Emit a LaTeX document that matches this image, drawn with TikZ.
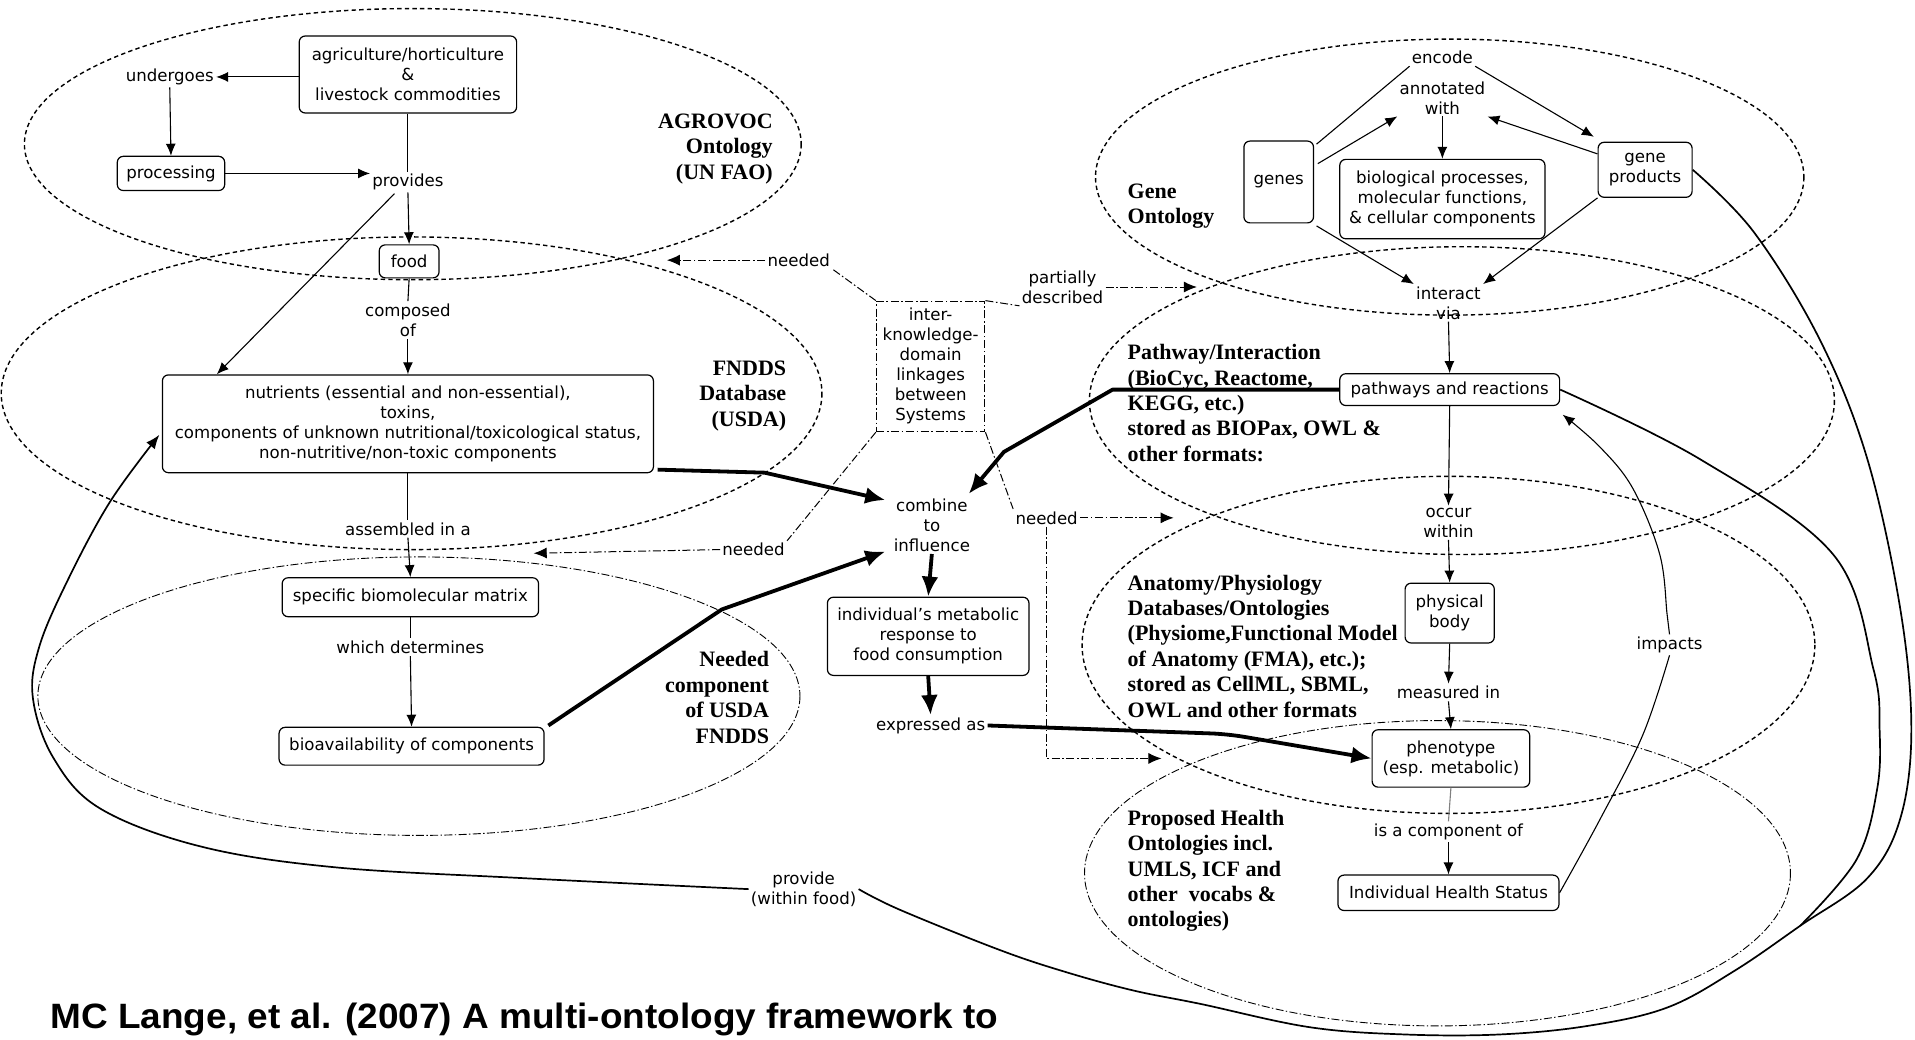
\documentclass[tikz,border=0pt]{standalone}
\usepackage{fontspec}
\setmainfont{DejaVu Sans}
\newfontfamily\serifb{Liberation Serif}
\newfontfamily\capfont{Liberation Sans}[FakeStretch=1.05]
\usetikzlibrary{arrows.meta,calc}
\tikzset{
  box/.style={draw, line width=0.6pt, rounded corners=3pt, align=center, inner sep=2pt},
  lbl/.style={align=center, inner sep=1pt},
  olbl/.style={font=\serifb\bfseries\fontsize{11}{12.7}\selectfont, inner sep=0pt},
  ell/.style={line width=0.7pt, dash pattern=on 2.2pt off 1.6pt},
  ell2/.style={line width=0.45pt, dash pattern=on 4pt off 1.2pt on 0.7pt off 1.2pt},
  ln/.style={line width=0.55pt},
  arr/.style={line width=0.55pt, -{Latex[length=6pt,width=5pt]}},
  bigarr/.style={line width=1.9pt, line join=round, -{Latex[length=10pt,width=8.5pt]}},
  need/.style={line width=0.5pt, dash pattern=on 4pt off 1.3pt on 0.8pt off 1.3pt},
  needarr/.style={need, -{Latex[length=6.5pt,width=5.5pt]}},
  bigcurve/.style={line width=0.85pt}
}
\begin{document}
\begin{tikzpicture}[x=0.61065pt,y=-0.61065pt,
  every node/.style={font=\fontsize{8.3}{10}\selectfont, inner sep=1pt}]
\useasboundingbox (0,0) rectangle (1568,851);

% ---------- ellipses ----------
\draw[ell] (338,118) ellipse [x radius=318, y radius=111];
\draw[ell] (337,322) ellipse [x radius=336, y radius=128];
\draw[ell2] (343,570) ellipse [x radius=312, y radius=114];
\draw[ell] (1187,145) ellipse [x radius=290, y radius=113];
\draw[ell] (1197,328) ellipse [x radius=305, y radius=126];
\draw[ell] (1186,528) ellipse [x radius=300, y radius=138];
\draw[ell2] (1177,715) ellipse [x radius=289, y radius=125];

% ---------- left nodes ----------
\node[box, minimum width=108.7pt, minimum height=38.5pt] (agri) at (334,61) {agriculture/horticulture\\\&\\livestock commodities};
\node[lbl] (und) at (139,63) {undergoes};
\node[box, minimum width=53.7pt, minimum height=17.1pt] (proc) at (140,142) {processing};
\node[lbl] (prv) at (334,149) {provides};
\node[box, minimum width=29.9pt, minimum height=16.5pt] (food) at (335,214) {food};
\node[lbl] (comp) at (334,262) {composed\\of};
\node[box, minimum width=245.5pt, minimum height=48.9pt] (nutr) at (334,347) {nutrients (essential and non-essential),\\toxins,\\components of unknown nutritional/toxicological status,\\non-nutritive/non-toxic components};
\node[lbl] (asm) at (334,433) {assembled in a};
\node[box, minimum width=128.2pt, minimum height=19.5pt] (mat) at (336,489) {specific biomolecular matrix};
\node[lbl] (wd) at (336,530) {which determines};
\node[box, minimum width=132.5pt, minimum height=18.9pt] (bioav) at (337,611) {bioavailability of components};

% ---------- ontology labels ----------
\node[olbl, align=right, anchor=east] (agl) at (633,122) {AGROVOC\\Ontology\\(UN FAO)};
\node[olbl, align=right, anchor=east] (fnl) at (644,324) {FNDDS\\Database\\(USDA)};
\node[olbl, align=right, anchor=east] (ncl) at (630,571) {Needed\\component\\of USDA\\FNDDS};
\node[olbl, align=left, anchor=west] (gol) at (923,169) {Gene\\Ontology};
\node[olbl, align=left, anchor=west] (pwl) at (923,330) {Pathway/Interaction\\(BioCyc, Reactome,\\KEGG, etc.)\\stored as BIOPax, OWL \&\\other formats:};
\node[olbl, align=left, anchor=west] (anl) at (923,529) {Anatomy/Physiology\\Databases/Ontologies\\(Physiome,Functional Model\\of Anatomy (FMA), etc.);\\stored as CellML, SBML,\\OWL and other formats};
\node[olbl, align=left, anchor=west] (phl) at (923,713) {Proposed Health\\Ontologies incl.\\UMLS, ICF and\\other\ \ vocabs \&\\ontologies)};

% ---------- middle nodes ----------
\node[draw, need, align=center, minimum width=54.3pt, minimum height=65.3pt, inner sep=1pt] (ikl) at (762,300) {inter-\\knowledge-\\domain\\linkages\\between\\Systems};
\node[lbl] (n1) at (654,213) {needed};
\node[lbl] (pd) at (870,235) {partially\\described};
\node[lbl] (n2) at (617,450) {needed};
\node[lbl] (n3) at (857,424) {needed};
\node[lbl] (cti) at (763,430) {combine\\to\\influence};
\node[box, minimum width=100.8pt, minimum height=39.1pt] (ind) at (760,521) {individual's metabolic\\response to\\food consumption};
\node[lbl] (exa) at (762,594) {expressed as};
\node[lbl] (pwf) at (658,728) {provide\\(within food)};

% ---------- right nodes ----------
\node[lbl] (enc) at (1181,47) {encode};
\node[lbl] (anw) at (1181,80) {annotated\\with};
\node[box, minimum width=34.8pt, minimum height=40.9pt] (gen) at (1047,149) {genes};
\node[box, minimum width=102.6pt, minimum height=39.7pt] (bpm) at (1181,163) {biological processes,\\molecular functions,\\\& cellular components};
\node[box, minimum width=47pt, minimum height=27.5pt] (gpr) at (1347,139) {gene\\products};
\node[lbl] (itv) at (1186,248) {interact\\via};
\node[box, minimum width=109.9pt, minimum height=15.9pt] (pwr) at (1187,319) {pathways and reactions};
\node[lbl] (ocw) at (1186,428) {occur\\within};
\node[box, minimum width=44.6pt, minimum height=29.9pt] (phb) at (1187,502) {physical\\body};
\node[lbl] (msi) at (1186,567) {measured in};
\node[box, minimum width=78.8pt, minimum height=28.7pt] (phe) at (1188,621) {phenotype\\(esp. metabolic)};
\node[lbl] (iac) at (1186,681) {is a component of};
\node[box, minimum width=110.5pt, minimum height=17.7pt] (ihs) at (1186,731) {Individual Health Status};
\node[lbl] (imp) at (1367,528) {impacts};

% ---------- caption ----------
\node[anchor=base west, inner sep=0pt, font=\capfont\bfseries\fontsize{17.6}{20}\selectfont] (cap) at (41,842) {MC Lange, et al. (2007) A multi-ontology framework to};

% ---------- free-end coordinates ----------
\coordinate (t1) at (546,213);
\coordinate (t2) at (980,235);
\coordinate (t3) at (437,453);
\coordinate (t4) at (961,424);
\coordinate (t5) at (951,621);
\coordinate (k1) at (626,387);
\coordinate (k2) at (591,499);
\coordinate (k3) at (911,319);
\coordinate (k4) at (822,370);
\coordinate (k5) at (1005,601);
\coordinate (nutTip) at ($(nutr.west)+(-2,9)$);
\coordinate (impTip) at ($(pwr.south east)+(2,7)$);

% ---------- left connectors ----------
\draw[arr] (agri.west |- und.east) -- (und.east);
\draw[arr] (und.south) -- (proc.north);
\draw[arr] (proc.east) -- (proc.east -| prv.west);
\draw[ln] (agri.south) -- (prv.north);
\draw[arr] (prv.south) -- (food.north);
\draw[arr] ($(prv.south)+(-11,1)$) -- ($(nutr.north west)+(45,0)$);
\draw[ln] (food.south) -- (comp.north);
\draw[arr] (comp.south) -- (nutr.north);
\draw[ln] (nutr.south) -- (asm.north);
\draw[arr] (asm.south) -- (mat.north);
\draw[ln] (mat.south) -- (wd.north);
\draw[arr] (wd.south) -- (bioav.north);

% ---------- thick connectors ----------
\draw[bigarr] ($(nutr.south east)+(3,-3)$) -- (k1) -- ($(cti.north west)+(-5,3)$);
\draw[bigarr] ($(bioav.north east)+(3,-1)$) -- (k2) -- ($(cti.south west)+(-5,-2)$);
\draw[bigarr] (pwr.west) -- (k3) -- (k4) -- ($(cti.north east)+(-3,-2)$);
\draw[bigarr] (cti.south) -- (ind.north);
\draw[bigarr] (ind.south) -- (exa.north);
\draw[bigarr, rounded corners=8pt] (exa.east) -- (k5) -- (phe.west);

% ---------- needed connectors ----------
\draw[need] (ikl.north west) -- (n1.south east);
\draw[needarr] (n1.west) -- (t1);
\draw[need] (ikl.north east) -- (pd.south west);
\draw[needarr] (pd.east) -- (t2);
\draw[need] (ikl.south west) -- (n2.north east);
\draw[needarr] (n2.west) -- (t3);
\draw[need] (ikl.south east) -- (n3.north west);
\draw[needarr] (n3.east) -- (t4);
\draw[needarr] (n3.south) |- (t5);

% ---------- right connectors ----------
\draw[ln] ($(gen.north east)+(2,3)$) -- (enc.south west);
\draw[arr] (enc.south east) -- ($(gpr.north west)+(-3,-4)$);
\draw[arr] ($(gen.east)+(3,-15)$) -- (anw.south west);
\draw[arr] ($(gpr.west)+(0,-13)$) -- (anw.south east);
\draw[arr] (anw.south) -- (bpm.north);
\draw[arr] ($(gen.south east)+(2,2)$) -- (itv.north west);
\draw[arr] (gpr.south west) -- (itv.north east);
\draw[arr] (itv.south) -- (pwr.north);
\draw[arr] (pwr.south) -- (ocw.north);
\draw[arr] (ocw.south) -- (phb.north);
\draw[arr] (phb.south) -- (msi.north);
\draw[arr] (msi.south) -- (phe.north);
\draw[ln, gray] (phe.south) -- (iac.north);
\draw[arr] (iac.south) -- (ihs.north);

% impacts
\draw[ln] plot[smooth, tension=0.6] coordinates {(ihs.east) (1310,671) (1345,602) (imp.south)};
\draw[arr] plot[smooth, tension=0.6] coordinates {(imp.north) (1365,503) (1359,454) (1337,400) (1310,366) (impTip)};

% big sweeping curves
\draw[bigcurve, -{Latex[length=7pt,width=5.5pt]}] plot[smooth, tension=0.6] coordinates {(pwf.west) (428,719) (273,710) (164,693) (82,662) (44,621) (27,572) (32,530) (55,476) (90,411) (nutTip)};
\draw[bigcurve] plot[smooth, tension=0.6] coordinates {(gpr.east) (1436,190) (1490,278) (1529,376) (1556,499) (1565,597) (1556,670) (1529,719) (1474,758) (1420,795) (1365,825) (1300,840) (1228,847) (1150,847) (1072,841) (983,822) (928,811) (873,796) (819,778) (737,745) (pwf.east)};
\draw[bigcurve] plot[smooth, tension=0.6] coordinates {(pwr.east) (1392,376) (1501,454) (1534,548) (1539,597) (1537,646) (1520,704) (1474,758)};
\end{tikzpicture}
\end{document}
